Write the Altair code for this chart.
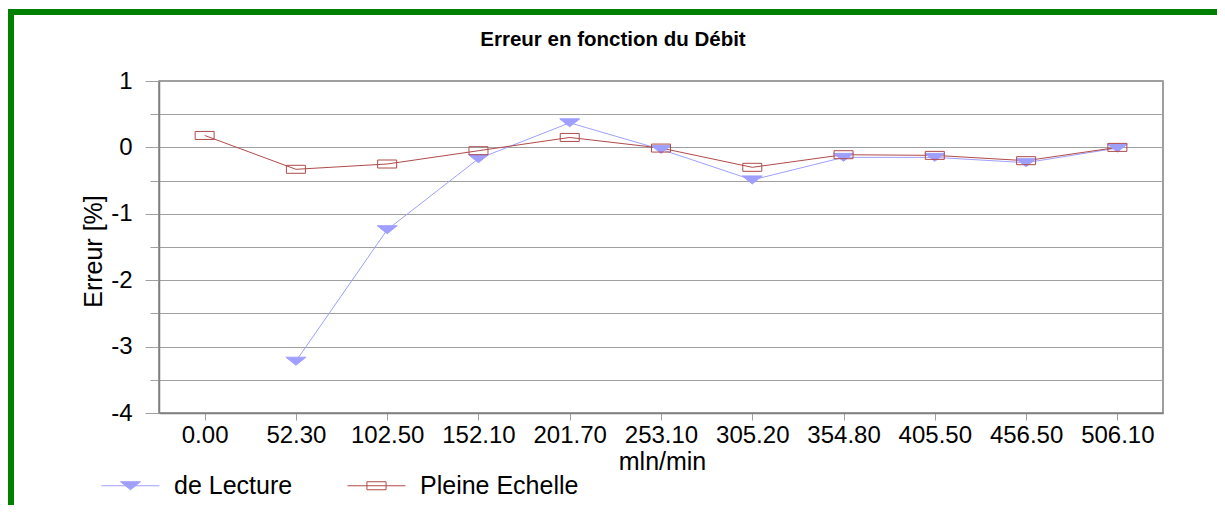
import altair as alt
import pandas as pd

categories = ["0.00", "52.30", "102.50", "152.10", "201.70", "253.10",
              "305.20", "354.80", "405.50", "456.50", "506.10"]
lecture = [None, -3.22, -1.24, -0.17, 0.37, -0.03, -0.49, -0.15, -0.15, -0.23, -0.01]
pleine = [0.18, -0.33, -0.25, -0.05, 0.15, -0.01, -0.30, -0.11, -0.12, -0.20, 0.0]
series_names = ["de Lecture", "Pleine Echelle"]
line_colors = ["#9f9fff", "#b04a4a"]
fill_colors = ["#9f9fff", "transparent"]
y_ticks = [-4, -3.5, -3, -2.5, -2, -1.5, -1, -0.5, 0, 0.5, 1]

rows = []
for name, vals in zip(series_names, [lecture, pleine]):
    for c, v in zip(categories, vals):
        rows.append({"debit": c, "erreur": v, "serie": name, "legende": name})
df = pd.DataFrame(rows)

FONT = "Liberation Sans"
W, H = 1004, 332

TRI = "M-1,-0.4L1,-0.4L0,0.4Z"
RECT = "M-0.95,-0.4H0.95V0.4H-0.95Z"
LEG_TRI = "M-1,0H1M-0.345,-0.138L0.345,-0.138L0,0.138Z"
LEG_RECT = "M-1,0H1M-0.33,-0.138H0.33V0.138H-0.33Z"

x_enc = alt.X(
    "debit:O", sort=categories,
    scale=alt.Scale(type="point", padding=0.5),
    axis=alt.Axis(title="mln/min", labelAngle=0, tickSize=7, tickColor="#a0a0a0",
                  labelPadding=3, grid=False, domainColor="#808080", domainWidth=1.5,
                  labelFontSize=24,
                  titleX=503, titleY=48, titleBaseline="middle", titleAlign="center"),
)
y_enc = alt.Y(
    "erreur:Q",
    scale=alt.Scale(domain=[-4, 1], nice=False, zero=False),
    axis=alt.Axis(title="Erreur [%]", values=y_ticks,
                  labelExpr="datum.value % 1 === 0 ? '' + datum.value : ''",
                  tickSize={"condition": {"test": "datum.value % 1 === 0", "value": 14}, "value": 9},
                  tickColor="#a0a0a0", labelPadding=13, labelFontSize=24,
                  grid=True, gridColor="#a0a0a0", gridWidth=1,
                  domainColor="#808080", domainWidth=1.5,
                  titleX=-66, titleY=170, titleAngle=-90,
                  titleBaseline="middle", titleAlign="center"),
)

legend = alt.Legend(
    title=None, orient="none", legendX=-58, legendY=375, direction="horizontal",
    symbolSize=3364, labelOffset=14, columnPadding=52, symbolOpacity=1,
    labelFont=FONT, labelFontSize=25, labelColor="black", symbolStrokeWidth=1,
)

base = alt.Chart(df)
lines = base.mark_line(strokeWidth=1).encode(
    x=x_enc, y=y_enc,
    color=alt.Color("serie:N", scale=alt.Scale(domain=series_names, range=line_colors), legend=None),
)
points = base.mark_point(size=400, strokeWidth=1, opacity=1).encode(
    x=x_enc, y=y_enc,
    shape=alt.Shape("serie:N", scale=alt.Scale(domain=series_names, range=[TRI, RECT]), legend=None),
    fill=alt.Fill("serie:N", scale=alt.Scale(domain=series_names, range=fill_colors), legend=None),
    stroke=alt.Stroke("serie:N", scale=alt.Scale(domain=series_names, range=line_colors), legend=None),
)
legend_layer = base.mark_point(size=400, strokeWidth=1, opacity=0).encode(
    x=x_enc, y=y_enc,
    shape=alt.Shape("legende:N", scale=alt.Scale(domain=series_names, range=[LEG_TRI, LEG_RECT]), legend=legend),
    fill=alt.Fill("legende:N", scale=alt.Scale(domain=series_names, range=fill_colors), legend=legend),
    stroke=alt.Stroke("legende:N", scale=alt.Scale(domain=series_names, range=line_colors), legend=legend),
)

border_df = pd.DataFrame({"k": [0]})
top_rule = alt.Chart(border_df).mark_rule(color="#008000", strokeWidth=6).encode(
    x=alt.value(-151), x2=alt.value(1058), y=alt.value(-69))
left_rule = alt.Chart(border_df).mark_rule(color="#008000", strokeWidth=7).encode(
    x=alt.value(-148.5), y=alt.value(-69), y2=alt.value(424))

chart = alt.layer(lines, points, legend_layer, top_rule, left_rule).resolve_scale(
    shape="independent", fill="independent", stroke="independent"
).properties(
    width=W, height=H,
    autosize=alt.AutoSizeParams(type="none"),
    padding={"left": 151, "top": 73, "right": 54, "bottom": 92},
    background="white",
    title=alt.Title("Erreur en fonction du Débit", font=FONT, fontSize=20.5, fontWeight="bold",
                    color="black", anchor="middle", dx=-48, offset=0, dy=58, baseline="alphabetic"),
).configure_view(
    stroke="#808080", strokeWidth=1.5
).configure_axis(
    labelFont=FONT, titleFont=FONT, titleFontSize=25,
    labelColor="black", titleColor="black", titleFontWeight="normal",
)

chart.save("out.html", embed_options={"renderer": "svg", "actions": False})
